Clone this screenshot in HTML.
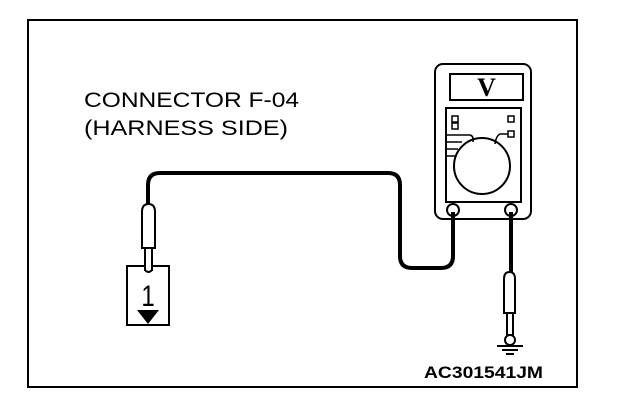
<!DOCTYPE html>
<html><head><style>html,body{margin:0;padding:0;background:#fff}svg{display:block}</style></head>
<body>
<svg width="624" height="410" viewBox="0 0 624 410" xmlns="http://www.w3.org/2000/svg" font-family="Liberation Sans, Arial, sans-serif">
<rect x="28" y="20" width="549" height="367" fill="none" stroke="#000" stroke-width="2"/>
<text x="84" y="107" font-size="21" textLength="215" lengthAdjust="spacingAndGlyphs">CONNECTOR F-04</text>
<text x="84" y="135" font-size="21" textLength="204" lengthAdjust="spacingAndGlyphs">(HARNESS SIDE)</text>
<path d="M148 205 V185 Q148 173 160 173 H388 Q400 173 400 185 V256 Q400 268 412 268 H441 Q453 268 453 256 V212" fill="none" stroke="#000" stroke-width="4"/>
<rect x="435" y="64" width="96" height="155" rx="8" fill="#fff" stroke="#000" stroke-width="2"/>
<rect x="450" y="74" width="73" height="26" fill="none" stroke="#000" stroke-width="2"/>
<text x="486.5" y="96" font-size="26" font-weight="bold" text-anchor="middle" font-family="Liberation Serif, serif">V</text>
<rect x="446" y="108" width="75" height="94" fill="none" stroke="#000" stroke-width="2"/>
<circle cx="482" cy="166" r="28" fill="none" stroke="#000" stroke-width="2"/>
<rect x="452" y="116" width="6" height="6" fill="none" stroke="#000" stroke-width="1.5"/>
<rect x="452" y="123" width="6" height="6" fill="none" stroke="#000" stroke-width="1.5"/>
<rect x="508" y="116" width="6" height="6" fill="none" stroke="#000" stroke-width="1.5"/>
<rect x="508" y="131" width="6" height="6" fill="none" stroke="#000" stroke-width="1.5"/>
<path d="M446 135 H470 Q474 136 473 142 M446 142 H462 M446 149 H458 M446 156 H456 M508 134 H500 Q496 136 495 144" fill="none" stroke="#000" stroke-width="1.5"/>
<circle cx="453" cy="210" r="6" fill="#fff" stroke="#000" stroke-width="2"/>
<circle cx="511" cy="210" r="6" fill="#fff" stroke="#000" stroke-width="2"/>
<line x1="453" y1="212" x2="453" y2="225" stroke="#000" stroke-width="4"/>
<line x1="511" y1="212" x2="511" y2="274" stroke="#000" stroke-width="4"/>
<path d="M504 313 V279 Q504 272 509.5 272 Q515 272 515 279 V313 Z" fill="#fff" stroke="#000" stroke-width="2"/>
<rect x="507" y="313" width="6" height="22" fill="#fff" stroke="#000" stroke-width="2"/>
<circle cx="510" cy="340" r="5" fill="#fff" stroke="#000" stroke-width="2"/>
<line x1="497" y1="346" x2="523" y2="346" stroke="#000" stroke-width="2"/>
<line x1="502" y1="350" x2="518" y2="350" stroke="#000" stroke-width="2"/>
<line x1="506" y1="354" x2="514" y2="354" stroke="#000" stroke-width="2"/>
<path d="M142 248 V212 Q142 204 148.5 204 Q155 204 155 212 V248 Z" fill="#fff" stroke="#000" stroke-width="2"/>
<rect x="145" y="248" width="7" height="22" fill="#fff" stroke="#000" stroke-width="2"/>
<rect x="127" y="266" width="42" height="59" fill="none" stroke="#000" stroke-width="2"/>
<rect x="145" y="263" width="7" height="8" fill="#fff" stroke="none"/>
<path d="M145 263 V270 Q148.5 274 152 270 V263" fill="none" stroke="#000" stroke-width="2"/>
<text x="148" y="306" font-size="30" text-anchor="middle" transform="translate(148 0) scale(0.8 1) translate(-148 0)">1</text>
<path d="M137 310 H159 L148 324 Z" fill="#000"/>
<text x="424" y="378" font-size="17" font-weight="bold" textLength="119" lengthAdjust="spacingAndGlyphs">AC301541JM</text>
</svg>
</body></html>
